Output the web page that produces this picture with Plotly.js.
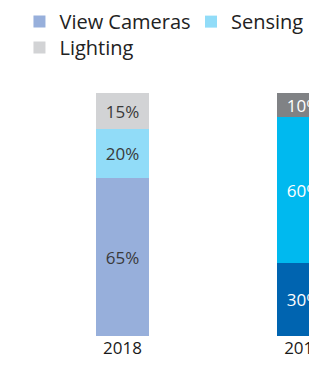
<!DOCTYPE html>
<html><head><meta charset="utf-8">
<script src="https://cdn.plot.ly/plotly-3.0.1.min.js"></script>
<style>html,body{margin:0;padding:0;background:#fff}#chart{width:309px;height:365px}</style>
</head><body><div id="chart"></div>
<script>
const groups = ['Segment 1', 'Segment 2'];
const tickLabels = ['2018', '2018'];
const viewCameras = [65, 30];
const sensing = [20, 60];
const lighting = [15, 10];
const seriesNames = ['View Cameras', 'Sensing', 'Lighting'];
const colors = {
  'View Cameras': ['#97AFDB', '#0064B0'],
  'Sensing': ['#91DCF8', '#00B9EF'],
  'Lighting': ['#D2D3D5', '#808285']
};
const textColors = ['#3a3a3a', '#ffffff'];
const seriesValues = [viewCameras, sensing, lighting];
const legendIds = ['legend', 'legend2', 'legend3'];

const traces = seriesNames.map((name, i) => ({
  type: 'bar',
  name: name,
  legend: legendIds[i],
  x: groups,
  y: seriesValues[i],
  width: 0.29,
  marker: {color: colors[name], line: {width: 0}},
  text: seriesValues[i].map(v => v + '%'),
  textposition: 'inside',
  insidetextanchor: 'middle',
  constraintext: 'none',
  cliponaxis: false,
  textfont: {family: 'Open Sans', size: 17, color: textColors},
  hoverinfo: 'none'
}));

const legendBase = {orientation: 'v', yanchor: 'top', xanchor: 'left', bgcolor: 'rgba(0,0,0,0)',
                    font: {size: 20, color: '#222'}, itemclick: false};

const layout = {
  width: 309, height: 365,
  barmode: 'stack',
  margin: {l: 0, r: 0, t: 93, b: 29},
  paper_bgcolor: '#fff', plot_bgcolor: '#fff',
  font: {family: 'Open Sans', color: '#222'},
  xaxis: {type: 'category', range: [-0.677, 1.03], showgrid: false, zeroline: false,
          tickvals: groups, ticktext: tickLabels,
          showline: false, ticks: '', tickfont: {size: 17, color: '#1a1a1a'}},
  yaxis: {range: [0, 100], visible: false, fixedrange: true},
  showlegend: true,
  legend: Object.assign({}, legendBase, {x: 0.063, y: 1.374}),
  legend2: Object.assign({}, legendBase, {x: 1, xanchor: 'right', y: 1.374}),
  legend3: Object.assign({}, legendBase, {x: 0.063, y: 1.2675})
};
Plotly.newPlot('chart', traces, layout, {displayModeBar: false, staticPlot: true});
</script></body></html>
